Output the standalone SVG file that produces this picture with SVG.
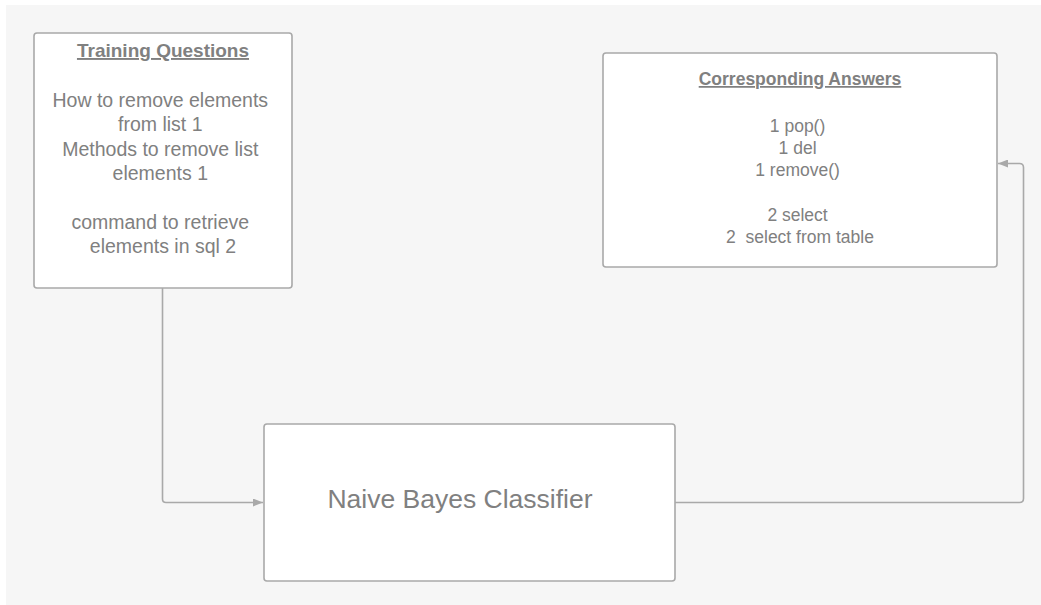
<svg xmlns="http://www.w3.org/2000/svg" width="1041" height="605" viewBox="0 0 1041 605">
<defs>
<style>
.box{fill:#ffffff;stroke:#a9a9a9;stroke-width:1.6}
.t{font-family:"Liberation Sans",Arial,sans-serif;fill:#808080;text-anchor:middle}
.h{font-weight:bold;text-decoration:underline}
.conn{fill:none;stroke:#a9a9a9;stroke-width:1.6;stroke-linejoin:round}
</style>
<marker id="arr" viewBox="0 0 10 8" refX="10" refY="4" markerWidth="10" markerHeight="8" markerUnits="userSpaceOnUse" orient="auto">
<path d="M0,0 L10,4 L0,8 Z" fill="#a9a9a9"/>
</marker>
</defs>
<rect x="0" y="0" width="1041" height="605" fill="#ffffff"/>
<rect x="6" y="5" width="1035" height="600" fill="#f6f6f6"/>
<g id="connectors">
<path class="conn" d="M162.5,288 L162.5,499 Q162.5,502.5 166,502.5 L263,502.5" marker-end="url(#arr)"/>
<path class="conn" d="M675,502.5 L1019.5,502.5 Q1023.5,502.5 1023.5,498.5 L1023.5,167.5 Q1023.5,163.5 1019.5,163.5 L998,163.5" marker-end="url(#arr)"/>
</g>
<g id="training-questions">
<rect class="box" x="34" y="33" width="258" height="255" rx="3"/>
<text class="t h" x="163" y="57" font-size="19">Training Questions</text>
<text class="t" font-size="19.5">
<tspan x="163" y="107">How to remove elements</tspan>
<tspan x="163" y="131">from list 1</tspan>
<tspan x="163" y="156">Methods to remove list</tspan>
<tspan x="163" y="180">elements 1</tspan>
<tspan x="163" y="229">command to retrieve</tspan>
<tspan x="163" y="253">elements in sql 2</tspan>
</text>
</g>
<g id="corresponding-answers">
<rect class="box" x="603" y="53" width="394" height="214" rx="3"/>
<text class="t h" x="800" y="85" font-size="17.5">Corresponding Answers</text>
<text class="t" font-size="17.5">
<tspan x="800" y="132">1 pop()</tspan>
<tspan x="800" y="154">1 del</tspan>
<tspan x="800" y="176">1 remove()</tspan>
<tspan x="800" y="221">2 select</tspan>
<tspan x="800" y="243" xml:space="preserve">2  select from table</tspan>
</text>
</g>
<g id="naive-bayes">
<rect class="box" x="264" y="424" width="411" height="157" rx="3"/>
<text class="t" x="460" y="508" font-size="26.5">Naive Bayes Classifier</text>
</g>
</svg>
